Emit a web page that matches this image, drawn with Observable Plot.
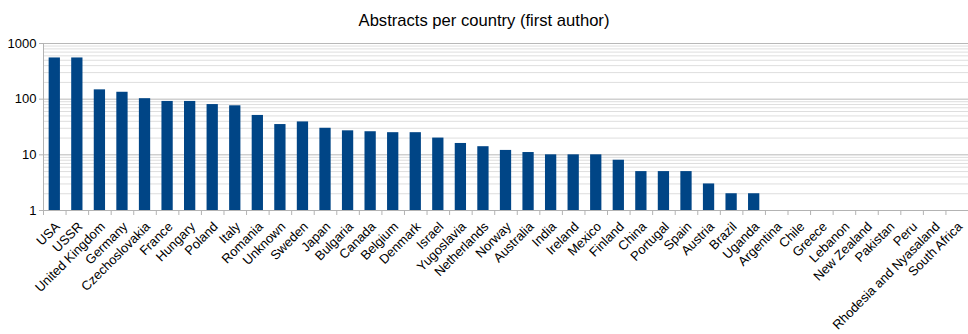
<!DOCTYPE html>
<html>
<head>
<meta charset="utf-8">
<script src="https://cdn.jsdelivr.net/npm/d3@7"></script>
<script src="https://cdn.jsdelivr.net/npm/@observablehq/plot@0.6"></script>
<style>
  body { margin: 0; background: #fff; font-family: "Liberation Sans", Arial, sans-serif; }
  #title { height: 30px; line-height: 41px; text-align: center; font-size: 16.6px; color: #000; overflow: visible; }
</style>
</head>
<body>
<div id="title">Abstracts per country (first author)</div>
<div id="chart"></div>
<script>
const countries = ["USA","USSR","United Kingdom","Germany","Czechoslovakia","France","Hungary","Poland","Italy","Romania","Unknown","Sweden","Japan","Bulgaria","Canada","Belgium","Denmark","Israel","Yugoslavia","Netherlands","Norway","Australia","India","Ireland","Mexico","Finland","China","Portugal","Spain","Austria","Brazil","Uganda","Argentina","Chile","Greece","Lebanon","New Zealand","Pakistan","Peru","Rhodesia and Nyasaland","South Africa"];
const counts = [550,550,147,133,102,91,91,80,76,51,35,39,30,27,26,25,25,20,16,14,12,11,10,10,10,8,5,5,5,3,2,2,1,1,1,1,1,1,1,1,1];
const majorTicks = [1,10,100,1000];
const minorTicks = [2,3,4,5,6,7,8,9,20,30,40,50,60,70,80,90,200,300,400,500,600,700,800,900];

const data = countries.map((c, i) => ({country: c, count: counts[i]}));

const W = 968, ML = 43, MR = 0;
const step = (W - ML - MR) / countries.length;

const chart = Plot.plot({
  width: W,
  height: 304,
  marginTop: 13,
  marginBottom: 124,
  marginLeft: ML,
  marginRight: MR,
  style: {fontFamily: "'Liberation Sans', Arial, sans-serif", background: "#fff", color: "#000"},
  x: {domain: countries, paddingInner: 0.5, paddingOuter: 0.25, round: false, label: null},
  y: {type: "log", domain: [1, 1000], label: null},
  marks: [
    Plot.ruleY(minorTicks, {stroke: "#dedede", strokeWidth: 1}),
    Plot.ruleY(majorTicks, {stroke: "#b8b8b8", strokeWidth: 1}),
    Plot.barY(data, {x: "country", y1: 1, y2: "count", fill: "#004586"}),
    Plot.ruleY([1], {stroke: "#b3b3b3"}),
    Plot.frame({anchor: "left", stroke: "#b3b3b3"}),
    Plot.axisY({ticks: majorTicks, tickFormat: d => String(d), tickSize: 4, tickPadding: 3, stroke: "#b3b3b3", fill: "#000", fontSize: 13}),
    Plot.axisX({text: null, tickSize: 5, dx: -step / 2, stroke: "#b3b3b3"}),
    Plot.axisX({tickSize: 0, tickPadding: 14, dx: 3, tickRotate: -45, fontSize: 13, fill: "#000"})
  ]
});
document.getElementById("chart").appendChild(chart);
</script>
</body>
</html>
